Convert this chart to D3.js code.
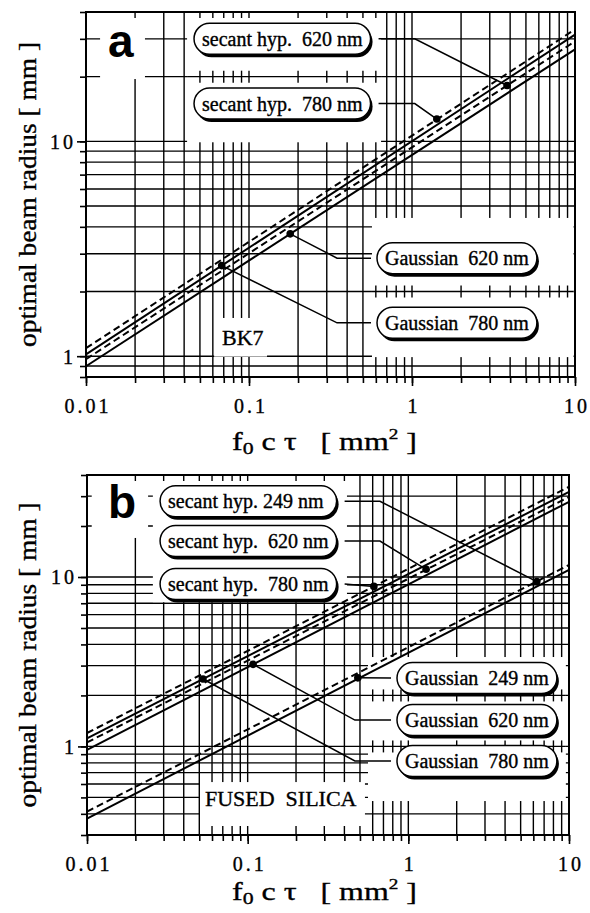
<!DOCTYPE html>
<html><head><meta charset="utf-8">
<script src="https://cdn.jsdelivr.net/npm/d3@7"></script>
<style>
body{margin:0;background:#fff;}
svg{display:block;}
text{font-family:"Liberation Serif","Times New Roman",serif;fill:#000;stroke:#000;stroke-width:0.35px;}
</style></head><body>
<svg id="chart" width="590" height="913"></svg>
<script>
// ---------------- data ----------------
const xDomain = [0.01, 10];
const xTickValues = [0.01, 0.1, 1, 10];
const xTickLabels = ["0.01", "0.1", "1", "10"];
const yTickValues = [1, 10];
const yTickLabels = ["1", "10"];
const yDomainA = [0.8, 40];
const yDomainB = [0.3, 40];
const lineX = [0.01, 10];

// panel a : BK7
const bk7Labels = ["secant hyp.  620 nm", "secant hyp.  780 nm", "Gaussian  620 nm", "Gaussian  780 nm"];
const bk7Kinds  = ["secant", "secant", "gaussian", "gaussian"];
const bk7Start  = [0.968, 1.09, 0.898, 1.02];   // value at f0cτ = 0.01
const bk7End    = [29.2, 33.2, 26.8, 31.4];     // value at f0cτ = 10
const bk7MarkX  = [3.83, 1.42, 0.179, 0.068];
const bk7MarkY  = [18.2, 12.7, 3.71, 2.64];

// panel b : fused silica
const fsLabels = ["secant hyp. 249 nm", "secant hyp.  620 nm", "secant hyp.  780 nm", "Gaussian  249 nm", "Gaussian  620 nm", "Gaussian  780 nm"];
const fsKinds  = ["secant", "secant", "secant", "gaussian", "gaussian", "gaussian"];
const fsStart  = [0.412, 1.055, 1.20, 0.375, 0.955, 1.115];
const fsEnd    = [11.78, 29.7, 34.1, 11.0, 27.8, 31.8];
const fsMarkX  = [6.3, 1.29, 0.61, 0.485, 0.108, 0.0527];
const fsMarkY  = [9.4, 11.1, 8.8, 2.54, 3.05, 2.50];

// ---------------- layout (annotation placement in data units) ----------------
const annA = [
  {boxX: 0.046, cy: 30,   elbow: 1.04},
  {boxX: 0.046, cy: 15,   elbow: 1.04},
  {boxX: 0.61,  cy: 2.86, elbow: 0.347},
  {boxX: 0.61,  cy: 1.43, elbow: 0.347}
];
const annB = [
  {boxX: 0.0285, cy: 28,   elbow: 0.666},
  {boxX: 0.0285, cy: 16.3, elbow: 0.666},
  {boxX: 0.0285, cy: 9.09, elbow: null},
  {boxX: 0.85,   cy: 2.53, elbow: null},
  {boxX: 0.85,   cy: 1.43, elbow: 0.465},
  {boxX: 0.85,   cy: 0.82, elbow: 0.465}
];
const eraseA = [
  {x0: 0.0122, x1: 0.0230, y0: 19.5, y1: 40, lines: []},
  {x0: 0.0417, x1: 0.646,  y0: 9.9,  y1: 40, lines: [20]},
  {x0: 0.568,  x1: 9.8,    y0: 0.99, y1: 4.4, lines: [2]},
  {x0: 0.0611, x1: 0.129,  y0: 0.995, y1: 1.506, lines: []}
];
const eraseB = [
  {x0: 0.0107, x1: 0.024, y0: 17,  y1: 40, lines: []},
  {x0: 0.0257, x1: 0.415, y0: 7.1, y1: 40, lines: []},
  {x0: 0.561,  x1: 9.56,  y0: 0.476, y1: 3.37, lines: [2, 1]},
  {x0: 0.0505, x1: 0.537, y0: 0.339, y1: 0.616, lines: []}
];

const panels = [
  {l: 86, r: 575, t: 12, b: 377, yDomain: yDomainA, labels: bk7Labels, kinds: bk7Kinds,
   start: bk7Start, end: bk7End, mx: bk7MarkX, my: bk7MarkY, ann: annA, erase: eraseA,
   letter: "a", letterPos: [0.01365, 24.7], material: "BK7", matPos: [0.0683, 1.127], titleY: 450},
  {l: 87, r: 569, t: 475, b: 835, yDomain: yDomainB, labels: fsLabels, kinds: fsKinds,
   start: fsStart, end: fsEnd, mx: fsMarkX, my: fsMarkY, ann: annB, erase: eraseB,
   letter: "b", letterPos: [0.0135, 22.3], material: "FUSED  SILICA", matPos: [0.0542, 0.445], titleY: 900}
];

const svg = d3.select("#chart");

panels.forEach(p => {
  const x = d3.scaleLog().domain(xDomain).range([p.l, p.r]);
  const y = d3.scaleLog().domain(p.yDomain).range([p.b, p.t]);
  const g = svg.append("g");
  const gridX = x.ticks();
  const gridY = y.ticks();

  // grid
  g.append("g").selectAll("line").data(gridX).join("line")
    .attr("x1", d => x(d)).attr("x2", d => x(d)).attr("y1", p.t).attr("y2", p.b)
    .attr("stroke", "#000").attr("stroke-width", 1.4);
  g.append("g").selectAll("line").data(gridY).join("line")
    .attr("x1", p.l).attr("x2", p.r).attr("y1", d => y(d)).attr("y2", d => y(d))
    .attr("stroke", "#000").attr("stroke-width", 1.4);

  // outside tick marks (minor and major)
  const styleAxis = sel => {
    sel.select(".domain").remove();
    sel.selectAll(".tick line").attr("stroke", "#000").attr("stroke-width", 1.6);
    sel.attr("font-family", null).attr("font-size", null);
  };
  g.append("g").attr("transform", `translate(0,${p.b})`)
    .call(d3.axisBottom(x).tickValues(gridX).tickSize(6).tickFormat("")).call(styleAxis);
  g.append("g").attr("transform", `translate(${p.l},0)`)
    .call(d3.axisLeft(y).tickValues(gridY).tickSize(6).tickFormat("")).call(styleAxis);

  const axX = g.append("g").attr("transform", `translate(0,${p.b})`)
    .call(d3.axisBottom(x).tickValues(xTickValues).tickSize(9).tickFormat((d, i) => xTickLabels[i]))
    .call(styleAxis);
  axX.selectAll(".tick text").attr("y", 36).attr("dy", 0).attr("dx", 1.5)
    .attr("font-size", 20).style("letter-spacing", "3px");
  const axY = g.append("g").attr("transform", `translate(${p.l},0)`)
    .call(d3.axisLeft(y).tickValues(yTickValues).tickSize(9).tickFormat((d, i) => yTickLabels[i]))
    .call(styleAxis);
  axY.selectAll(".tick text").attr("x", -10).attr("dy", 7)
    .attr("font-size", 20).style("letter-spacing", "3px");

  // erased areas of the grid
  p.erase.forEach(e => {
    const ex0 = x(e.x0), ex1 = x(e.x1), ey0 = y(e.y1), ey1 = y(e.y0);
    g.append("rect").attr("x", ex0).attr("y", Math.max(ey0, p.t + 1))
      .attr("width", ex1 - ex0).attr("height", ey1 - Math.max(ey0, p.t + 1)).attr("fill", "#fff");
    const inside = gridX.filter(v => v > e.x0 && v < e.x1);
    e.lines.forEach(v => {
      g.append("line").attr("x1", ex0).attr("x2", ex1).attr("y1", y(v)).attr("y2", y(v))
        .attr("stroke", "#000").attr("stroke-width", 1.4);
      g.append("g").selectAll("line").data(inside).join("line")
        .attr("x1", d => x(d)).attr("x2", d => x(d)).attr("y1", y(v) - 6).attr("y2", y(v) + 6)
        .attr("stroke", "#000").attr("stroke-width", 1.4);
    });
    if (e.y1 >= p.yDomain[1]) {
      g.append("g").selectAll("line").data(inside).join("line")
        .attr("x1", d => x(d)).attr("x2", d => x(d)).attr("y1", p.t).attr("y2", p.t + 6)
        .attr("stroke", "#000").attr("stroke-width", 1.4);
    }
  });

  // frame
  g.append("rect").attr("x", p.l).attr("y", p.t).attr("width", p.r - p.l).attr("height", p.b - p.t)
    .attr("fill", "none").attr("stroke", "#000").attr("stroke-width", 2);

  // curves
  const lineGen = d3.line().x(d => x(d[0])).y(d => y(d[1]));
  p.start.forEach((s, i) => {
    g.append("path").attr("d", lineGen([[lineX[0], s], [lineX[1], p.end[i]]]))
      .attr("fill", "none").attr("stroke", "#000").attr("stroke-width", 2)
      .attr("stroke-dasharray", p.kinds[i] === "secant" ? "7,4" : null);
  });

  // label boxes: measure texts first
  const labG = g.append("g");
  const texts = p.labels.map((lab, i) => labG.append("text")
      .attr("x", x(p.ann[i].boxX) + 8).attr("y", y(p.ann[i].cy) + 7)
      .attr("font-size", 20).style("white-space", "pre").text(lab));
  const widths = {};
  texts.forEach((t, i) => {
    const w = t.node().getComputedTextLength();
    widths[p.kinds[i]] = Math.max(widths[p.kinds[i]] || 0, w);
  });

  // leaders + markers
  p.labels.forEach((lab, i) => {
    const a = p.ann[i];
    const bx = x(a.boxX), cy = y(a.cy), bw = widths[p.kinds[i]] + 16;
    const pts = [];
    if (p.kinds[i] === "secant") pts.push([bx + bw + 8, cy]); else pts.push([bx - 6, cy]);
    if (a.elbow !== null) pts.push([x(a.elbow), cy]);
    pts.push([x(p.mx[i]), y(p.my[i])]);
    g.insert("path", () => labG.node()).attr("d", d3.line()(pts)).attr("fill", "none")
      .attr("stroke", "#000").attr("stroke-width", 1.5);
    g.insert("circle", () => labG.node()).attr("cx", x(p.mx[i])).attr("cy", y(p.my[i]))
      .attr("r", 3.8).attr("fill", "#000");
    labG.insert("rect", "text").attr("x", bx + 2).attr("y", cy - 15.5 + 3)
      .attr("width", bw).attr("height", 31).attr("rx", 15.5).attr("fill", "#000");
    labG.insert("rect", "text").attr("x", bx).attr("y", cy - 15.5)
      .attr("width", bw).attr("height", 31).attr("rx", 15.5)
      .attr("fill", "#fff").attr("stroke", "#000").attr("stroke-width", 1.5);
  });

  // panel letter and material
  g.append("text").attr("x", x(p.letterPos[0])).attr("y", y(p.letterPos[1]))
    .style("font-family", '"Liberation Sans", Arial, sans-serif').attr("font-weight", "bold")
    .style("stroke-width", "0px").attr("font-size", 46).text(p.letter);
  g.append("text").attr("x", x(p.matPos[0])).attr("y", y(p.matPos[1]))
    .attr("font-size", 22).style("white-space", "pre").text(p.material);

  // axis titles
  g.append("text").attr("transform", `translate(36,${(p.t + p.b) / 2}) rotate(-90)`)
    .attr("text-anchor", "middle").attr("font-size", 25)
    .attr("textLength", 305).attr("lengthAdjust", "spacingAndGlyphs")
    .text("optimal beam radius [ mm ]");
  const xt = g.append("text").attr("x", 232).attr("y", p.titleY).attr("font-size", 25)
    .style("white-space", "pre").attr("textLength", 185).attr("lengthAdjust", "spacingAndGlyphs");
  xt.append("tspan").text("f");
  xt.append("tspan").attr("font-size", 17).attr("dy", 4).text("0");
  xt.append("tspan").attr("dy", -4).text(" c τ   [ mm");
  xt.append("tspan").attr("font-size", 15).attr("dy", -11).text("2");
  xt.append("tspan").attr("dy", 11).text(" ]");
});
</script>
</body></html>
